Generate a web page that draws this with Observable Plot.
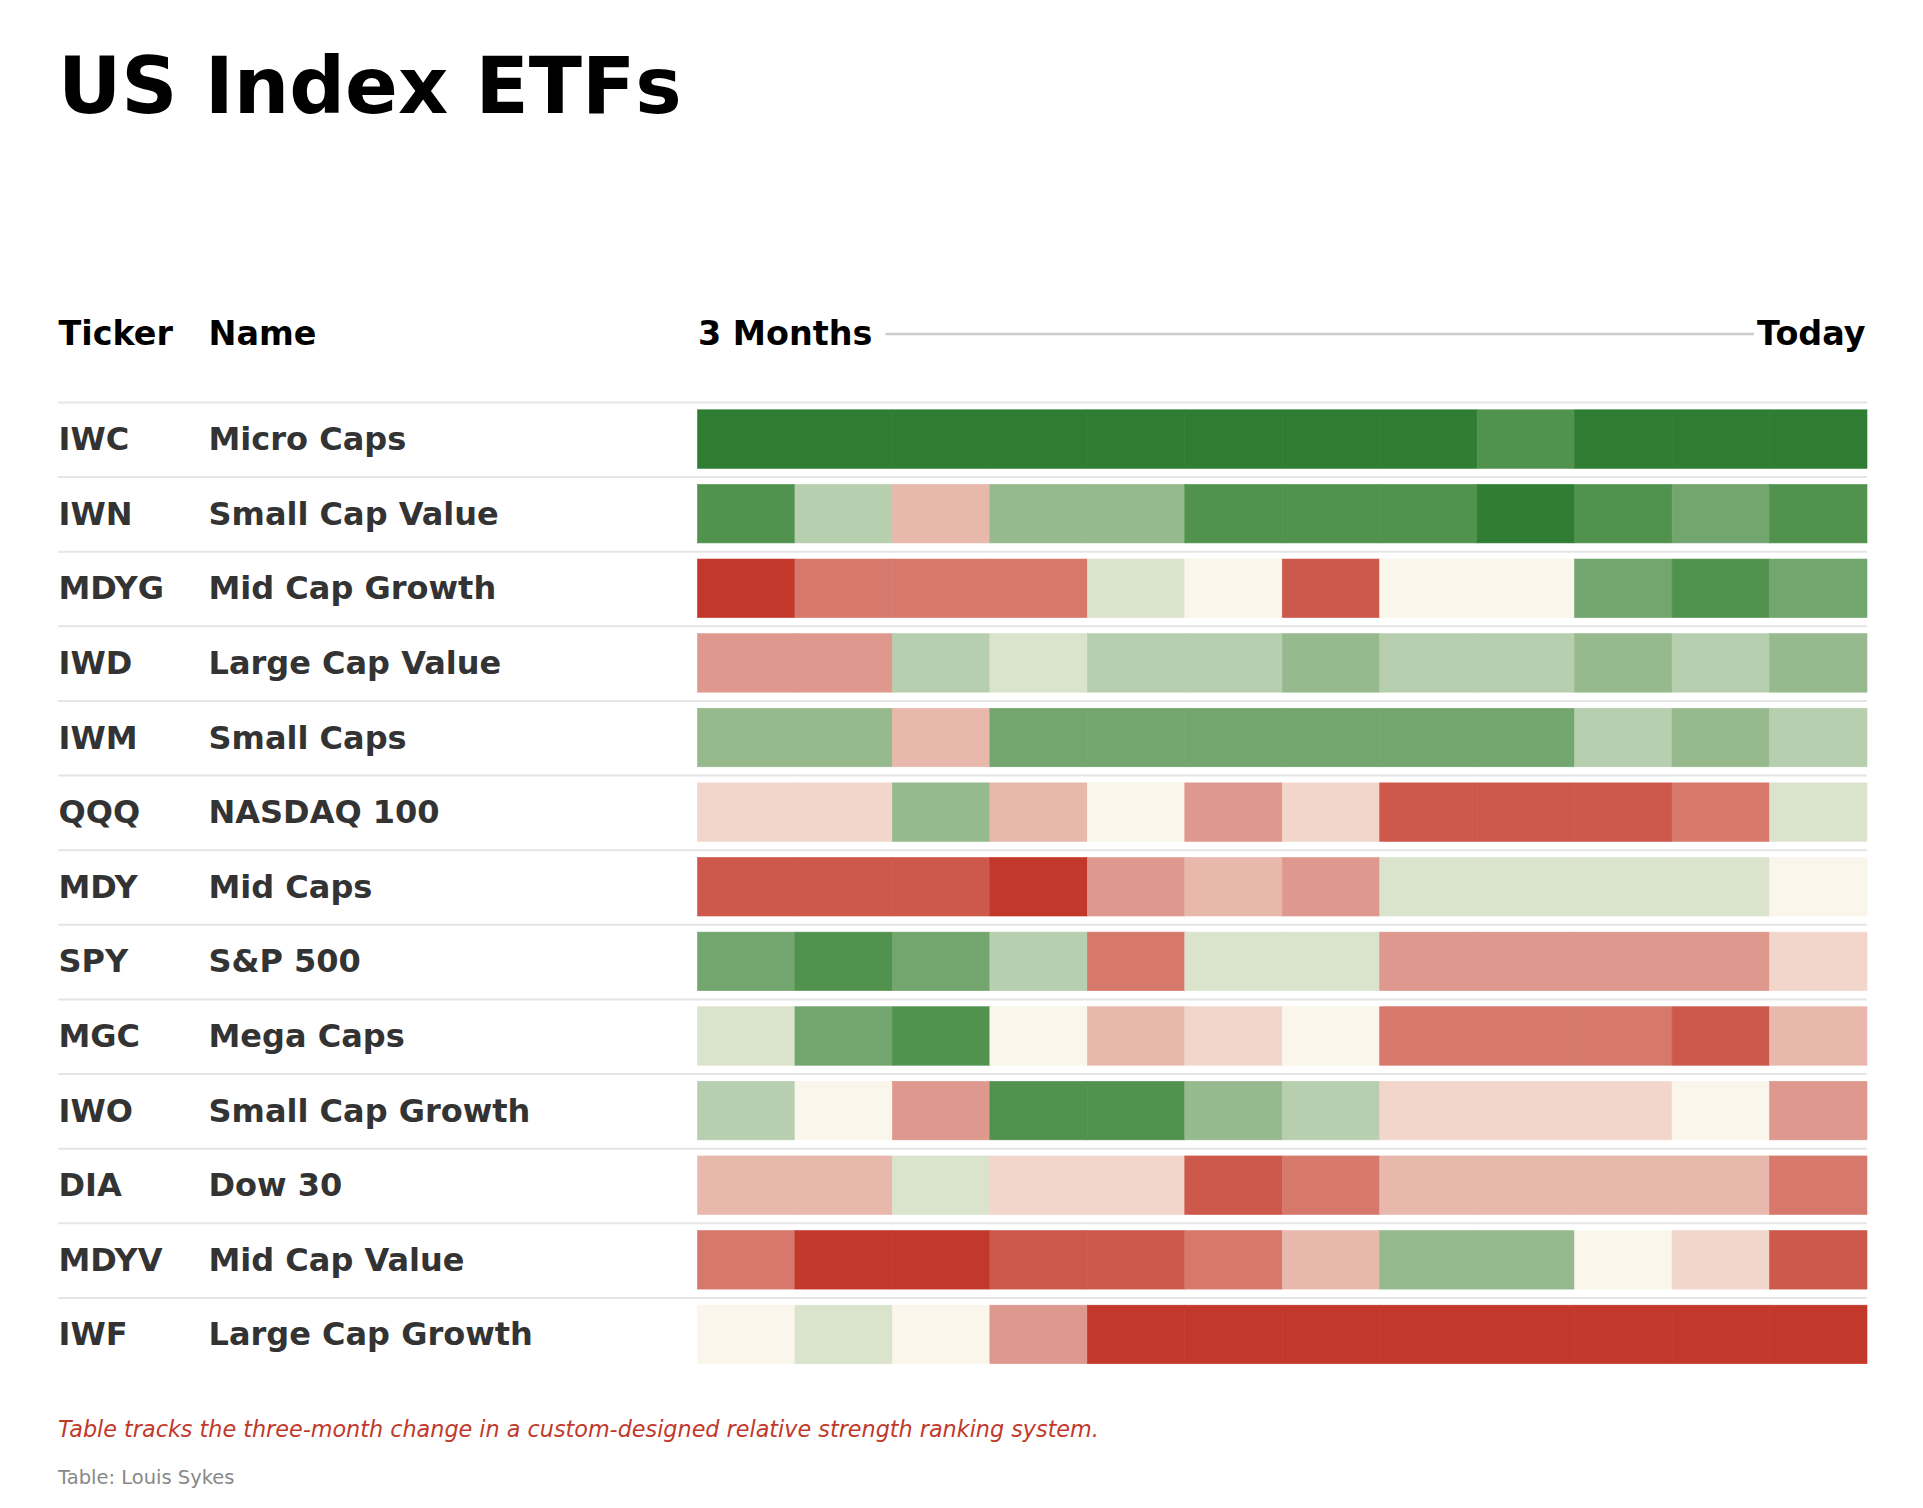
<!DOCTYPE html>
<html>
<head>
<meta charset="utf-8">
<script src="https://cdn.jsdelivr.net/npm/d3@7"></script>
<script src="https://cdn.jsdelivr.net/npm/@observablehq/plot@0.6"></script>
<style>
  html, body { margin: 0; padding: 0; background: #ffffff; }
  #page { position: relative; width: 1923px; height: 1508px; font-family: "DejaVu Sans", sans-serif; }
  #title { position: absolute; left: 58px; top: 47px; margin: 0; font-size: 78px; line-height: 78px; font-weight: bold; color: #000; white-space: nowrap; }
  #chart { position: absolute; left: 0; top: 280px; }
  #caption { position: absolute; left: 58px; top: 1418px; font-size: 22.3px; line-height: 22px; font-style: italic; color: #c0392b; white-space: nowrap; }
  #source { position: absolute; left: 58px; top: 1468px; font-size: 19.5px; line-height: 19px; color: #888888; white-space: nowrap; }
</style>
</head>
<body>
<div id="page">
  <h1 id="title">US Index ETFs</h1>
  <div id="chart"></div>
  <div id="caption">Table tracks the three-month change in a custom-designed relative strength ranking system.</div>
  <div id="source">Table: Louis Sykes</div>
</div>
<script>
// ---- Data ----
const tickers = ["IWC","IWN","MDYG","IWD","IWM","QQQ","MDY","SPY","MGC","IWO","DIA","MDYV","IWF"];
const names = ["Micro Caps","Small Cap Value","Mid Cap Growth","Large Cap Value","Small Caps","NASDAQ 100","Mid Caps","S&P 500","Mega Caps","Small Cap Growth","Dow 30","Mid Cap Value","Large Cap Growth"];
// rank-change level per period (oldest -> today), -6 (weakest) .. 6 (strongest)
const IWC  = [6,6,6,6,6,6,6,6,5,6,6,6];
const IWN  = [5,2,-2,3,3,5,5,5,6,5,4,5];
const MDYG = [-6,-4,-4,-4,1,0,-5,0,0,4,5,4];
const IWD  = [-3,-3,2,1,2,2,3,2,2,3,2,3];
const IWM  = [3,3,-2,4,4,4,4,4,4,2,3,2];
const QQQ  = [-1,-1,3,-2,0,-3,-1,-5,-5,-5,-4,1];
const MDY  = [-5,-5,-5,-6,-3,-2,-3,1,1,1,1,0];
const SPY  = [4,5,4,2,-4,1,1,-3,-3,-3,-3,-1];
const MGC  = [1,4,5,0,-2,-1,0,-4,-4,-4,-5,-2];
const IWO  = [2,0,-3,5,5,3,2,-1,-1,-1,0,-3];
const DIA  = [-2,-2,1,-1,-1,-5,-4,-2,-2,-2,-2,-4];
const MDYV = [-4,-6,-6,-5,-5,-4,-2,3,3,0,-1,-5];
const IWF  = [0,1,0,-3,-6,-6,-6,-6,-6,-6,-6,-6];
const series = [IWC, IWN, MDYG, IWD, IWM, QQQ, MDY, SPY, MGC, IWO, DIA, MDYV, IWF];
const periods = 12;
const headerLabels = {ticker: "Ticker", name: "Name", start: "3 Months", end: "Today"};

const levels = [-6,-5,-4,-3,-2,-1,0,1,2,3,4,5,6];
const palette = ["#c2382b","#cc594b","#d6786c","#de988e","#e8b8ad","#f2d6cc","#faf6eb",
                 "#dae3cc","#b7cfaf","#96b98e","#73a66f","#51924f","#2e7d32"];

// ---- Build table ----
const cells = [];
series.forEach((vals, r) => vals.forEach((v, c) => cells.push({r, c, v})));
const rows = tickers.map((t, i) => ({i, ticker: t, name: names[i]}));

const font = "DejaVu Sans";
const headerDy = -68.4;
const headerSize = 33.4;

const chart = Plot.plot({
  width: 1923,
  height: 1110,
  marginLeft: 58,
  marginRight: 56,
  marginTop: 0,
  marginBottom: 0,
  style: {fontFamily: font, background: "#ffffff", overflow: "visible"},
  x: {type: "linear", domain: [0, periods], range: [697.5, 1867], axis: null},
  y: {type: "linear", domain: [0, tickers.length], range: [122, 1092], axis: null},
  color: {type: "ordinal", domain: levels, range: palette},
  marks: [
    // row separators (top of each row)
    Plot.ruleY(rows, {y: "i", stroke: "#e6e6e6", strokeWidth: 2}),
    // heat cells
    Plot.rect(cells, {
      x1: "c", x2: d => d.c + 1,
      y1: "r", y2: d => d.r + 1,
      fill: "v", stroke: "v", strokeWidth: 0.6, insetTop: 7.8, insetBottom: 8.3
    }),
    // row labels
    Plot.text(rows, {y: d => d.i + 0.5, text: "ticker", frameAnchor: "left", textAnchor: "start",
      fontSize: 32, fontWeight: "bold", fill: "#333333", lineAnchor: "middle"}),
    Plot.text(rows, {y: d => d.i + 0.5, text: "name", frameAnchor: "left", textAnchor: "start", dx: 150,
      fontSize: 32, fontWeight: "bold", fill: "#333333", lineAnchor: "middle"}),
    // header
    Plot.text([headerLabels.ticker], {y: 0, dy: headerDy, text: d => d, frameAnchor: "left", textAnchor: "start",
      fontSize: headerSize, fontWeight: "bold", fill: "#000000", lineAnchor: "middle"}),
    Plot.text([headerLabels.name], {y: 0, dy: headerDy, text: d => d, frameAnchor: "left", textAnchor: "start", dx: 150,
      fontSize: headerSize, fontWeight: "bold", fill: "#000000", lineAnchor: "middle"}),
    Plot.text([headerLabels.start], {x: 0, y: 0, dy: headerDy, text: d => d, textAnchor: "start",
      fontSize: headerSize, fontWeight: "bold", fill: "#000000", lineAnchor: "middle"}),
    Plot.text([headerLabels.end], {x: periods, y: 0, dy: headerDy, dx: -2, text: d => d, textAnchor: "end",
      fontSize: headerSize, fontWeight: "bold", fill: "#000000", lineAnchor: "middle"}),
    Plot.ruleY([0], {x1: 0, x2: periods, dy: headerDy, insetLeft: 188, insetRight: 113,
      stroke: "#cccccc", strokeWidth: 2.5})
  ]
});
document.getElementById("chart").appendChild(chart);
</script>
</body>
</html>
